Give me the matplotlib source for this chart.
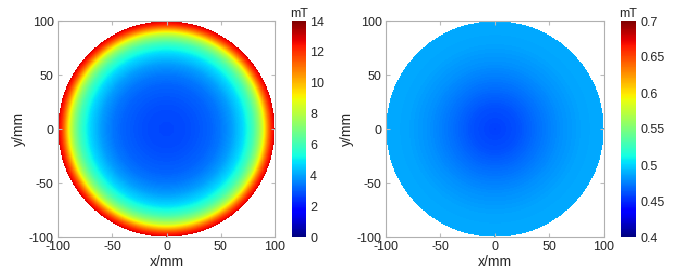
import matplotlib.pyplot as plt
import numpy as np

plt.rcParams['font.family'] = ['Liberation Sans', 'DejaVu Sans']
plt.rcParams['axes.unicode_minus'] = False

# radial field profiles (r in mm, B in mT)
r_left = [0, 20, 40, 50, 60, 70, 75, 80, 85, 88, 91, 94, 97, 100]
b_left = [2.7, 2.8, 3.1, 3.4, 3.9, 4.7, 5.3, 6.1, 7.3, 8.3, 9.6, 11.0, 12.2, 12.9]

r_right = [0, 20, 40, 60, 80, 100]
b_right = [0.456, 0.461, 0.471, 0.480, 0.486, 0.488]

lims = [(0, 14), (0.4, 0.7)]
cticks = [[0, 2, 4, 6, 8, 10, 12, 14],
          [0.4, 0.45, 0.5, 0.55, 0.6, 0.65, 0.7]]
cticklabels = [[str(t) for t in cticks[0]],
               ['0.4', '0.45', '0.5', '0.55', '0.6', '0.65', '0.7']]
axticks = [-100, -50, 0, 50, 100]

x = np.linspace(-100, 100, 201)
X, Y = np.meshgrid(x, x)
R = np.hypot(X, Y)

fig = plt.figure(figsize=(7, 2.78), dpi=100)
W, H = 700, 278
ax_boxes = [(58, 21, 217, 216), (386, 21, 218, 216)]
cb_boxes = [(292, 21, 14, 216), (621, 21, 15, 216)]

for i, (rp, bp) in enumerate([(r_left, b_left), (r_right, b_right)]):
    ax = fig.add_axes([ax_boxes[i][0] / W, 1 - (ax_boxes[i][1] + ax_boxes[i][3]) / H,
                       ax_boxes[i][2] / W, ax_boxes[i][3] / H])
    B = np.interp(R, rp, bp)
    B = np.ma.masked_where(R > 100, B)
    im = ax.pcolormesh(X, Y, B, cmap='jet', vmin=lims[i][0], vmax=lims[i][1],
                       shading='nearest')
    ax.set_xlim(-100, 100)
    ax.set_ylim(-100, 100)
    ax.set_xticks(axticks)
    ax.set_yticks(axticks)
    ax.tick_params(labelsize=9, direction='in', length=3, color='#bbbbbb',
                   labelcolor='#262626', pad=3, top=True, right=True)
    for sp in ax.spines.values():
        sp.set_color('#b0b0b0')
        sp.set_linewidth(0.8)
    ax.set_xlabel('x/mm', fontsize=10, color='#262626', labelpad=1)
    ax.set_ylabel('y/mm', fontsize=10, color='#262626', labelpad=2)

    cax = fig.add_axes([cb_boxes[i][0] / W, 1 - (cb_boxes[i][1] + cb_boxes[i][3]) / H,
                        cb_boxes[i][2] / W, cb_boxes[i][3] / H])
    cb = fig.colorbar(im, cax=cax, ticks=cticks[i])
    cb.ax.set_yticklabels(cticklabels[i])
    cb.ax.tick_params(labelsize=9, length=0, labelcolor='#262626', pad=3)
    cb.outline.set_visible(False)
    cax.set_title('mT', fontsize=9, color='#262626', pad=3)

fig.savefig('out.png', dpi=100, facecolor='white')
